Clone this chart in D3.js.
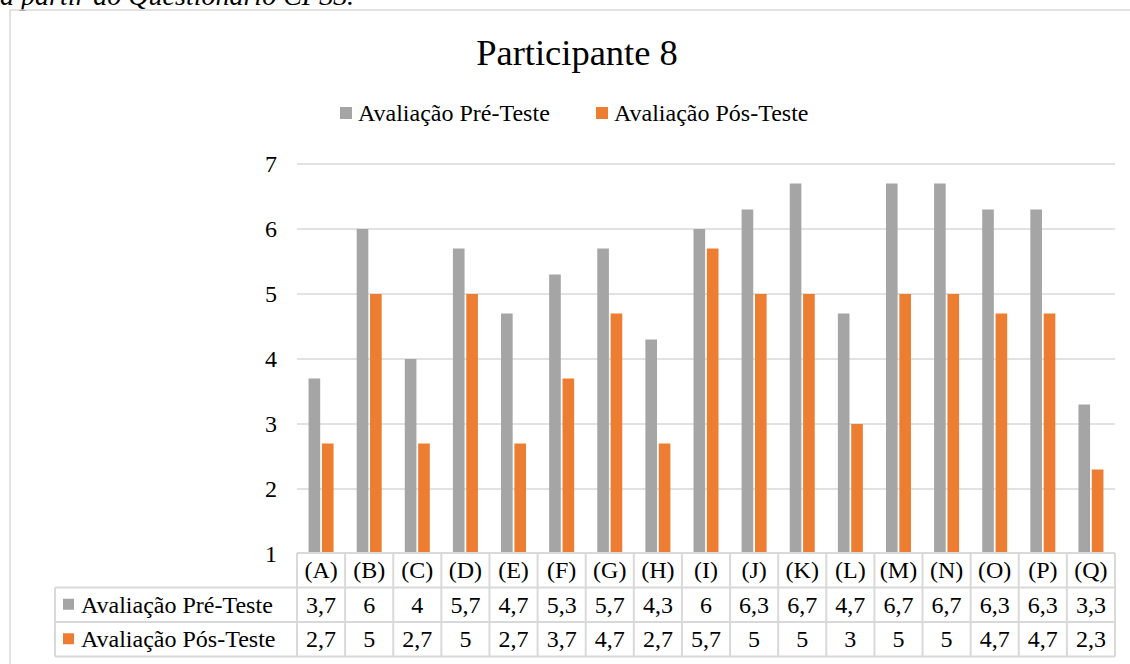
<!DOCTYPE html>
<html>
<head>
<meta charset="utf-8">
<script src="https://cdn.jsdelivr.net/npm/d3@7"></script>
<style>
  html, body { margin: 0; padding: 0; background: #fff; }
  svg { display: block; }
  svg text { font-family: 'Liberation Serif', Tinos, 'Times New Roman', Times, 'DejaVu Serif', serif; fill: #000; }
</style>
</head>
<body>
<svg id="chart" width="1130" height="664"></svg>
<script>
const categories = ["(A)","(B)","(C)","(D)","(E)","(F)","(G)","(H)","(I)","(J)","(K)","(L)","(M)","(N)","(O)","(P)","(Q)"];
const seriesNames = ["Avaliação Pré-Teste", "Avaliação Pós-Teste"];
const preValues  = [3.7, 6, 4, 5.7, 4.7, 5.3, 5.7, 4.3, 6, 6.3, 6.7, 4.7, 6.7, 6.7, 6.3, 6.3, 3.3];
const postValues = [2.7, 5, 2.7, 5, 2.7, 3.7, 4.7, 2.7, 5.7, 5, 5, 3, 5, 5, 4.7, 4.7, 2.3];
const yTicks = [1, 2, 3, 4, 5, 6, 7];
const titleText = "Participante 8";
const captionText = "a partir do Questionário CPSS.";

const colors = ["#A5A5A5", "#ED7D31"];
const gridColor = "#D9D9D9";
const FONT = "'Liberation Serif', Tinos, 'Times New Roman', Times, 'DejaVu Serif', serif";
const FS = 24;
const fmt = v => String(v).replace(".", ",");

const svg = d3.select("#chart");

// caption fragment (cropped at top)
svg.append("text").attr("x", 0).attr("y", 5)
  .attr("font-size", 28).attr("font-style", "italic")
  .text(captionText);

// chart outer border (right/bottom outside view)
svg.append("rect").attr("x", 10).attr("y", 10).attr("width", 1130).attr("height", 700)
  .attr("fill", "none").attr("stroke", gridColor).attr("stroke-width", 1.5);

const plotL = 297, plotR = 1115, plotT = 164, plotB = 554;
const x = d3.scaleBand().domain(categories).range([plotL, plotR]);
const y = d3.scaleLinear().domain([1, 7]).range([plotB, plotT]);
const x1 = d3.scaleBand().domain(seriesNames).range([0, 25]).paddingInner(0.13);

// title
svg.append("text").attr("x", 577).attr("y", 65).attr("text-anchor", "middle")
  .attr("font-size", 36.5).text(titleText);

// legend
const legendItems = [{x: 340, name: seriesNames[0], c: colors[0]}, {x: 596, name: seriesNames[1], c: colors[1]}];
legendItems.forEach(d => {
  svg.append("rect").attr("x", d.x).attr("y", 107).attr("width", 12).attr("height", 12).attr("fill", d.c);
  svg.append("text").attr("x", d.x + 18).attr("y", 121).attr("font-size", FS).text(d.name);
});

// gridlines
svg.append("g").selectAll("line").data(yTicks.filter(t => t > 1)).join("line")
  .attr("x1", plotL).attr("x2", plotR)
  .attr("y1", d => y(d)).attr("y2", d => y(d))
  .attr("stroke", gridColor).attr("stroke-width", 1.5);

// y axis labels
const yAxis = d3.axisLeft(y).tickValues(yTicks).tickSize(0).tickPadding(0).tickFormat(d3.format("d"));
const yg = svg.append("g").attr("transform", `translate(${277},0)`).call(yAxis)
  .attr("font-family", FONT).attr("font-size", FS);
yg.select(".domain").remove();
yg.selectAll("text").attr("fill", "#000").attr("dy", "0.33em");

// bars
const data = categories.map((c, i) => ({cat: c, vals: [preValues[i], postValues[i]]}));
const groups = svg.append("g").selectAll("g").data(data).join("g")
  .attr("transform", d => `translate(${x(d.cat) + x.bandwidth() / 2 - 12.5},0)`);
groups.selectAll("rect").data(d => d.vals.map((v, j) => ({s: seriesNames[j], v, j}))).join("rect")
  .attr("x", d => x1(d.s)).attr("width", x1.bandwidth())
  .attr("y", d => y(d.v)).attr("height", d => y(1) - y(d.v))
  .attr("fill", d => colors[d.j]);

// data table
const rowY = [553, 587.5, 622, 656.5];
const tableL = 55;
const tg = svg.append("g");
tg.append("line").attr("x1", plotL).attr("x2", plotR).attr("y1", rowY[0]).attr("y2", rowY[0]);
rowY.slice(1).forEach(yy => tg.append("line").attr("x1", tableL).attr("x2", plotR).attr("y1", yy).attr("y2", yy));
const bounds = categories.map(c => x(c)).concat([plotR]);
bounds.forEach(bx => tg.append("line").attr("x1", bx).attr("x2", bx).attr("y1", rowY[0]).attr("y2", rowY[3]));
tg.append("line").attr("x1", tableL).attr("x2", tableL).attr("y1", rowY[1]).attr("y2", rowY[3]);
tg.selectAll("line").attr("stroke", gridColor).attr("stroke-width", 2);

tg.selectAll("text.cat").data(categories).join("text").attr("class", "cat")
  .attr("x", d => x(d) + x.bandwidth() / 2).attr("y", (rowY[0] + rowY[1]) / 2 + 8)
  .attr("text-anchor", "middle").attr("font-size", FS).text(d => d);

[preValues, postValues].forEach((vals, j) => {
  const cy = (rowY[j + 1] + rowY[j + 2]) / 2;
  tg.append("rect").attr("x", 63).attr("y", cy - 6).attr("width", 11).attr("height", 11).attr("fill", colors[j]);
  tg.append("text").attr("x", 81).attr("y", cy + 8).attr("font-size", FS).text(seriesNames[j]);
  tg.selectAll(null).data(vals).join("text")
    .attr("x", (d, i) => x(categories[i]) + x.bandwidth() / 2).attr("y", cy + 8)
    .attr("text-anchor", "middle").attr("font-size", FS).text(d => fmt(d));
});

svg.selectAll("text").attr("font-family", FONT);
</script>
</body>
</html>
